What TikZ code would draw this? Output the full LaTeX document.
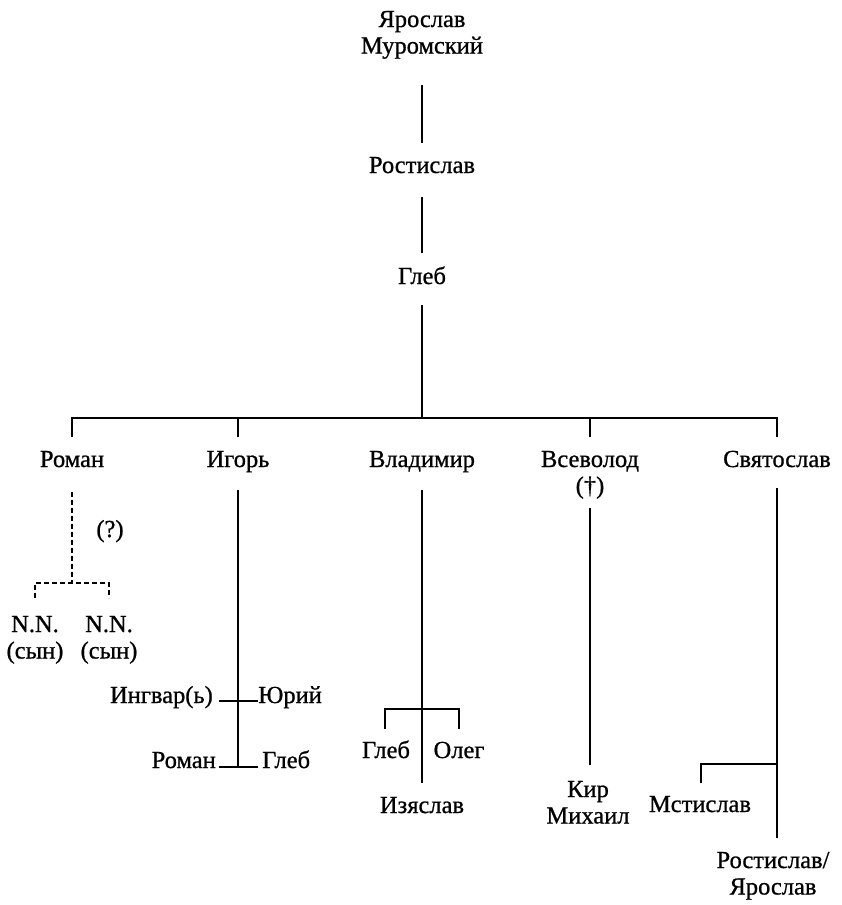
\documentclass[tikz,border=0pt]{standalone}
\usepackage{fontspec}
\setmainfont{Liberation Serif}[FakeBold=0.8]
\newcommand{\twol}[2]{\begin{tabular}[t]{@{}c@{}}#1\\#2\end{tabular}}
\begin{document}
\begin{tikzpicture}[x=1pt,y=-1pt,
  nm/.style={inner sep=0pt, anchor=base, font=\fontsize{24.5}{26.5}\selectfont},
  ln/.style={line width=1.6pt},
  dln/.style={line width=1.6pt, dash pattern=on 5pt off 3pt}]
\useasboundingbox (0,0) rectangle (841,905);
% top
\node[nm] (yar) at (422,27) {\twol{Ярослав}{Муромский}};
\node[nm] (rost) at (422,173) {Ростислав};
\node[nm] (gleb) at (422,284) {Глеб};
\coordinate (a1) at (422,85); \coordinate (a2) at (422,143);
\coordinate (b1) at (422,197); \coordinate (b2) at (422,253);
\coordinate (c1) at (422,305);
\draw[ln] (a1) -- (a2);
\draw[ln] (b1) -- (b2);
% bar
\coordinate (barL) at (72,418); \coordinate (barR) at (777,418);
\coordinate (barM) at (422,418);
\draw[ln] (c1) -- (barM);
\draw[ln] (72,437) -- (barL) -- (barR) -- (777,437);
\coordinate (t2) at (238,418); \coordinate (t3) at (590,418);
\draw[ln] (t2) -- (238,437);
\draw[ln] (t3) -- (590,437);
% row of sons
\node[nm] (roman) at (72,467) {Роман};
\node[nm] (igor) at (238,467) {Игорь};
\node[nm] (vlad) at (422,467) {Владимир};
\node[nm] (vsev) at (590,467) {\twol{Всеволод}{(†)}};
\node[nm] (svyat) at (777,467) {Святослав};
% Roman branch
\node[nm] (q) at (110,537) {(?)};
\coordinate (r1) at (72,492); \coordinate (r2) at (72,583);
\draw[dln] (r1) -- (r2);
\draw[dln] (35,598) -- (35,583) -- (109,583) -- (109,598);
\node[nm] (nn1) at (35,632) {\twol{N.N.}{(сын)}};
\node[nm] (nn2) at (109,632) {\twol{N.N.}{(сын)}};
% Igor branch
\coordinate (i1) at (238,490); \coordinate (i2) at (238,767);
\draw[ln] (i1) -- (i2);
\node[nm, anchor=base east] (ingv) at (213,703) {Ингвар(ь)};
\node[nm, anchor=base west] (yuri) at (258,703) {Юрий};
\node[nm, anchor=base east] (roman2) at (216,768) {Роман};
\node[nm, anchor=base west] (gleb2) at (262,768) {Глеб};
\draw[ln] (219,701) -- (258,701);
\draw[ln] (219,767) -- (258,767);
% Vladimir branch
\coordinate (v1) at (422,490); \coordinate (v2) at (422,783);
\draw[ln] (v1) -- (v2);
\draw[ln] (385,729) -- (385,709) -- (459,709) -- (459,729);
\node[nm] (gleb3) at (386,758) {Глеб};
\node[nm] (oleg) at (459,758) {Олег};
\node[nm] (izya) at (422,813) {Изяслав};
% Vsevolod branch
\coordinate (s1) at (590,508); \coordinate (s2) at (590,765);
\draw[ln] (s1) -- (s2);
\node[nm] (kir) at (588,797) {\twol{Кир}{Михаил}};
% Svyatoslav branch
\coordinate (y1) at (777,488); \coordinate (y2) at (777,838);
\draw[ln] (y1) -- (y2);
\draw[ln] (701,783) -- (701,764) -- (777,764);
\node[nm] (msti) at (700,812) {Мстислав};
\node[nm] (rostyar) at (773,868) {\twol{Ростислав/}{Ярослав}};
\end{tikzpicture}
\end{document}
